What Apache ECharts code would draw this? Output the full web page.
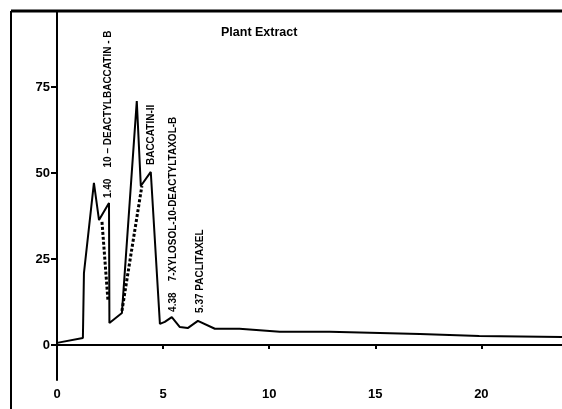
<!DOCTYPE html>
<html>
<head>
<meta charset="utf-8">
<script src="https://cdn.jsdelivr.net/npm/echarts@6/dist/echarts.min.js"></script>
<style>
  html, body { margin: 0; padding: 0; background: #fff; }
  #chart { width: 562px; height: 409px; }
</style>
</head>
<body>
<div id="chart"></div>
<script>
// retention time (min) and detector response
const traceTime = [0, 1.22, 1.27, 1.74, 1.98, 2.45, 2.47, 3.06, 3.76, 3.95, 4.42, 4.85, 5.08, 5.41, 5.79, 6.16, 6.64, 7.44, 8.6, 10.5, 12.85, 17.1, 19.9, 23.8];
const traceResp = [0.6, 2.0, 20.9, 47.1, 36.3, 41.3, 6.4, 9.3, 70.9, 46.2, 50.3, 6.1, 6.7, 8.1, 5.2, 4.9, 7.0, 4.7, 4.7, 3.8, 3.8, 3.2, 2.6, 2.3];

// dotted baselines under the overlapping peaks
const dropA = [[2.12, 35.8], [2.40, 13.1]];
const dropB = [[3.06, 9.9], [4.0, 46.2]];

const xTicks = [0, 5, 10, 15, 20];
const yTicks = [0, 25, 50, 75];

// peak labels: text and where the bottom of the text sits
const peakText = ['1.40    10 \u2013 DEACTYLBACCATIN - B', 'BACCATIN-II', '4.38    7-XYLOSOL-10-DEACTYLTAXOL-B', '5.37 PACLITAXEL'];
const peakAt = [[2.4, 42.7], [4.42, 52.3], [5.46, 9.6], [6.73, 9.3]];

const FONT = 'Liberation Sans, Arial, sans-serif';

const chart = echarts.init(document.getElementById('chart'));

const option = {
  animation: false,
  backgroundColor: '#fff',
  title: {
    text: 'Plant Extract',
    left: 216,
    top: 21,
    textStyle: { fontFamily: FONT, fontSize: 12.5, fontWeight: 'bold', color: '#000' }
  },
  grid: { left: 57, right: 0, top: 11, bottom: 29 },
  xAxis: {
    type: 'value',
    min: 0,
    max: 23.8,
    splitLine: { show: false },
    axisLine: { lineStyle: { color: '#000', width: 2 } },
    axisTick: { customValues: xTicks, length: 4, lineStyle: { color: '#000', width: 2 } },
    axisLabel: {
      customValues: xTicks,
      margin: 8,
      color: '#000',
      fontFamily: FONT,
      fontSize: 13,
      fontWeight: 'bold'
    }
  },
  yAxis: {
    type: 'value',
    min: -10.2,
    max: 97.1,
    splitLine: { show: false },
    axisLine: { lineStyle: { color: '#000', width: 2 } },
    axisTick: { customValues: yTicks, length: 6, lineStyle: { color: '#000', width: 2 } },
    axisLabel: {
      customValues: yTicks,
      margin: 7,
      color: '#000',
      fontFamily: FONT,
      fontSize: 13,
      fontWeight: 'bold'
    }
  },
  series: [
    {
      type: 'line',
      data: traceTime.map((t, i) => [t, traceResp[i]]),
      symbol: 'none',
      lineStyle: { color: '#000', width: 2 }
    },
    {
      type: 'line',
      data: dropA,
      symbol: 'none',
      lineStyle: { color: '#000', width: 3, type: [3, 2] }
    },
    {
      type: 'line',
      data: dropB,
      symbol: 'none',
      lineStyle: { color: '#000', width: 3, type: [3, 2] }
    }
  ]
};

chart.setOption(option);

// outer frame + rotated peak labels
const graphics = [
  { type: 'line', shape: { x1: 11, y1: 11, x2: 562, y2: 11 }, style: { stroke: '#000', lineWidth: 3 } },
  { type: 'line', shape: { x1: 11, y1: 11, x2: 11, y2: 409 }, style: { stroke: '#000', lineWidth: 2 } }
];
peakText.forEach((txt, i) => {
  const p = chart.convertToPixel({ gridIndex: 0 }, peakAt[i]);
  graphics.push({
    type: 'text',
    x: p[0],
    y: p[1],
    rotation: Math.PI / 2,
    style: {
      text: txt,
      fill: '#000',
      font: 'bold 10px ' + FONT,
      textAlign: 'left',
      textVerticalAlign: 'middle'
    }
  });
});
chart.setOption({ graphic: graphics });
</script>
</body>
</html>
